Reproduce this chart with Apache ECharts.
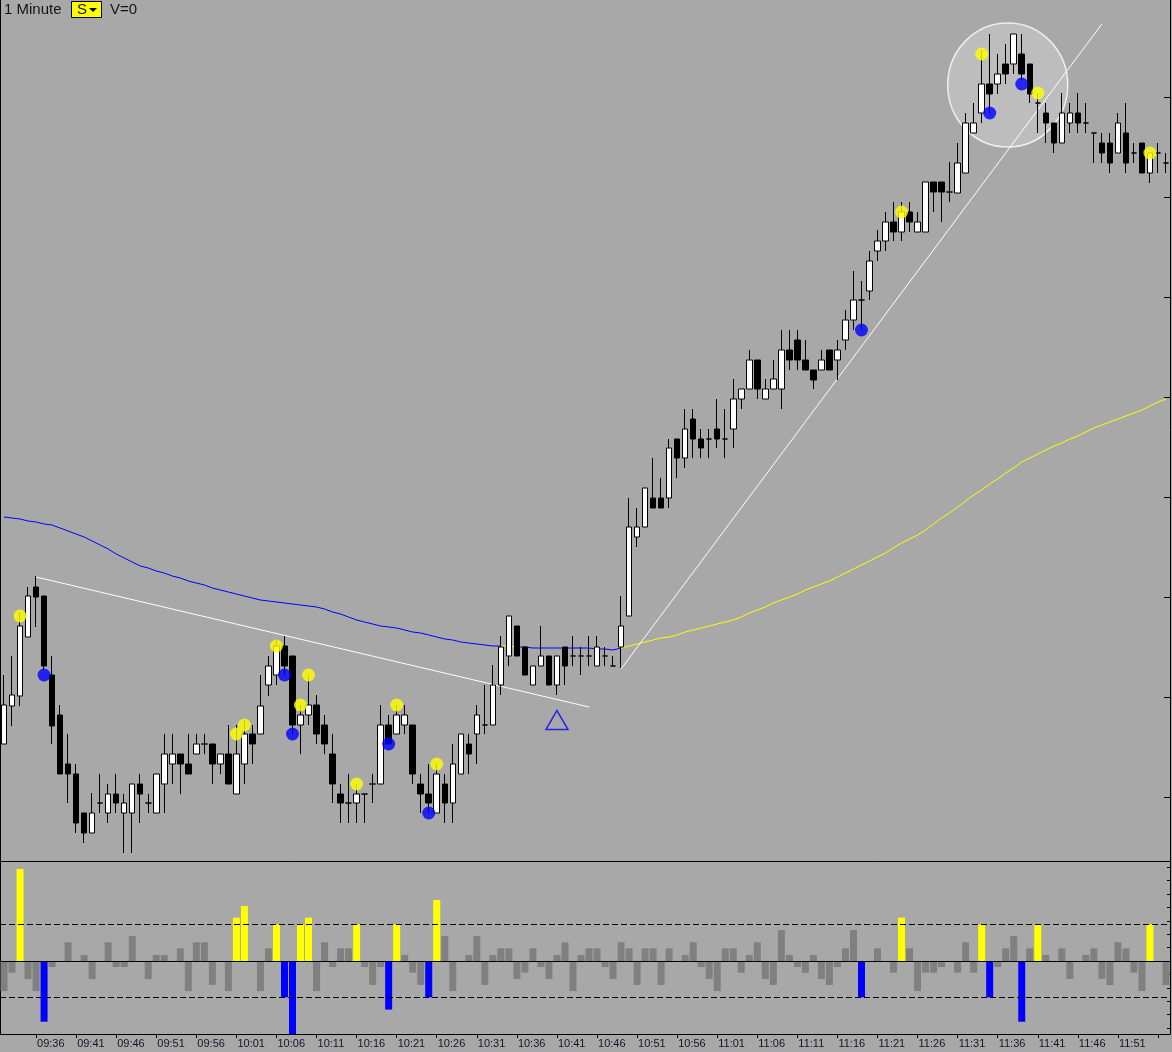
<!DOCTYPE html>
<html><head><meta charset="utf-8">
<script src="https://cdn.jsdelivr.net/npm/echarts@6/dist/echarts.min.js"></script>
<style>html,body{margin:0;padding:0;background:#a8a8a8;}#c{width:1172px;height:1052px;}</style>
</head><body><div id="c"></div>
<script>
// ---------- categories (1-minute bars) ----------
const times = ("09:32 09:33 09:34 09:35 09:36 09:37 09:38 09:39 09:40 09:41 09:42 09:43 09:44 09:45 09:46 09:47 09:48 09:49 09:50 09:51 09:52 09:53 09:54 09:55 09:56 09:57 09:58 09:59 " +
"10:00 10:01 10:02 10:03 10:04 10:05 10:06 10:07 10:08 10:09 10:10 10:11 10:12 10:13 10:14 10:15 10:16 10:17 10:18 10:19 10:20 10:21 10:22 10:23 10:24 10:25 10:26 10:27 10:28 10:29 " +
"10:30 10:31 10:32 10:33 10:34 10:35 10:36 10:37 10:38 10:39 10:40 10:41 10:42 10:43 10:44 10:45 10:46 10:47 10:48 10:49 10:50 10:51 10:52 10:53 10:54 10:55 10:56 10:57 10:58 10:59 " +
"11:00 11:01 11:02 11:03 11:04 11:05 11:06 11:07 11:08 11:09 11:10 11:11 11:12 11:13 11:14 11:15 11:16 11:17 11:18 11:19 11:20 11:21 11:22 11:23 11:24 11:25 11:26 11:27 11:28 11:29 " +
"11:30 11:31 11:32 11:33 11:34 11:35 11:36 11:37 11:38 11:39 11:40 11:41 11:42 11:43 11:44 11:45 11:46 11:47 11:48 11:49 11:50 11:51 11:52 11:53 11:54 11:55 11:56 11:57").split(' ');

// time-axis labels shown (every 5 minutes)
const tickLabels = ["09:36","09:41","09:46","09:51","09:56","10:01","10:06","10:11","10:16","10:21","10:26","10:31","10:36","10:41","10:46","10:51","10:56","11:01","11:06","11:11","11:16","11:21","11:26","11:31","11:36","11:41","11:46","11:51"];
const tickOnly = ["11:56"];

// ---------- OHLC ----------
const opens = [22.53,22.91,23.01,23.60,24.10,24.01,23.22,22.82,22.33,22.23,21.84,21.64,21.94,21.84,22.03,21.84,21.84,22.13,21.94,21.84,
22.13,22.33,22.43,22.33,22.43,22.53,22.53,22.33,22.43,22.03,22.33,22.63,22.63,23.12,23.22,23.51,23.41,22.72,22.82,22.92,
22.72,22.43,22.03,21.94,21.94,22.03,22.13,22.13,22.72,22.63,22.72,22.72,22.13,22.03,21.84,22.13,21.94,22.23,22.53,22.63,
22.72,22.72,23.12,23.41,23.71,23.50,23.12,23.31,23.41,23.12,23.50,23.41,23.41,23.41,23.31,23.41,23.31,23.50,23.81,24.60,
24.70,24.99,24.99,24.99,25.58,25.39,25.78,25.58,25.58,25.68,25.58,25.68,25.98,26.08,26.37,25.98,26.08,26.08,26.47,26.57,
26.37,26.27,26.27,26.47,26.37,26.57,26.77,26.97,27.06,27.46,27.56,27.75,27.65,27.85,27.65,27.65,28.15,28.15,28.05,28.04,
28.24,28.64,28.84,29.13,29.13,29.33,29.33,29.43,29.33,28.94,28.84,28.74,28.54,28.74,28.84,28.74,28.64,28.54,28.54,28.44,
28.64,28.44,28.54,28.24,28.44,28.34];
const closes = [22.92,23.02,23.71,24.01,24.00,23.31,22.71,22.23,22.23,21.74,21.64,21.84,21.94,22.03,21.94,21.94,22.13,22.03,21.94,22.23,
22.43,22.43,22.33,22.23,22.53,22.53,22.33,22.43,22.13,22.43,22.63,22.53,22.91,23.31,23.51,23.31,22.72,22.82,22.92,22.63,
22.53,22.13,21.94,21.94,22.03,22.03,22.13,22.72,22.53,22.82,22.82,22.23,22.03,21.94,22.23,21.94,22.33,22.63,22.43,22.82,
22.72,23.12,23.50,23.81,23.41,23.22,23.31,23.41,23.12,23.41,23.31,23.41,23.41,23.41,23.50,23.41,23.31,23.71,24.70,24.70,
25.09,24.89,24.89,25.49,25.39,25.68,25.58,25.49,25.58,25.58,25.58,25.98,26.08,26.37,26.08,26.08,26.18,26.47,26.37,26.37,
26.27,26.17,26.37,26.27,26.47,26.77,26.97,26.97,27.36,27.56,27.75,27.65,27.85,27.75,27.75,28.15,28.05,28.05,28.05,28.34,
28.74,28.74,29.13,29.03,29.23,29.23,29.63,29.23,29.03,28.94,28.74,28.54,28.84,28.84,28.74,28.74,28.64,28.44,28.34,28.74,
28.34,28.44,28.24,28.44,28.44,28.34];
const lows = [22.53,22.71,22.91,23.60,23.70,23.27,22.53,22.23,21.94,21.64,21.54,21.64,21.84,21.74,21.84,21.44,21.44,21.74,21.84,21.84,
21.84,22.13,22.03,22.23,22.43,22.43,22.13,22.23,22.13,22.03,22.13,22.33,22.63,23.01,23.12,23.22,22.63,22.43,22.72,22.53,
22.43,21.94,21.74,21.74,21.74,21.74,21.94,22.13,22.53,22.63,22.63,22.13,21.84,21.84,21.84,21.74,21.74,22.23,22.23,22.33,
22.63,22.72,23.02,23.31,23.41,23.22,23.12,23.31,23.12,23.02,23.12,23.31,23.22,23.31,23.31,23.31,23.31,23.29,23.81,24.50,
24.70,24.89,24.89,24.89,25.19,25.29,25.39,25.39,25.39,25.49,25.39,25.49,25.88,26.08,25.98,25.98,26.08,25.88,26.27,26.27,
26.27,26.08,26.27,26.27,26.17,26.47,26.67,26.67,26.97,27.36,27.46,27.56,27.56,27.65,27.65,27.65,27.85,27.75,27.95,28.04,
28.24,28.64,28.74,28.84,29.03,29.13,29.23,29.17,28.94,28.64,28.54,28.44,28.54,28.64,28.64,28.64,28.34,28.34,28.24,28.44,
28.24,28.34,28.24,28.14,28.24,28.24];
const highs = [23.22,23.41,23.85,24.10,24.21,24.01,23.41,22.92,22.63,22.33,21.84,22.04,22.23,22.13,22.23,22.03,22.13,22.23,22.03,22.23,
22.63,22.63,22.43,22.63,22.63,22.63,22.53,22.43,22.72,22.72,22.77,22.72,23.22,23.41,23.57,23.61,23.41,22.92,23.22,23.02,
22.82,22.63,22.13,22.23,22.13,22.03,22.23,22.92,22.82,22.92,22.92,22.72,22.23,22.33,22.33,22.23,22.53,22.63,22.63,22.92,
23.12,23.32,23.61,23.81,23.71,23.50,23.31,23.71,23.41,23.41,23.50,23.61,23.50,23.61,23.61,23.50,23.41,24.01,24.99,24.89,
25.09,25.39,25.19,25.58,25.58,25.88,25.88,25.68,25.68,25.98,25.88,26.18,26.08,26.47,26.37,26.18,26.37,26.67,26.67,26.67,
26.57,26.27,26.47,26.47,26.57,26.87,27.26,27.16,27.46,27.67,27.85,27.95,27.95,27.95,27.85,28.15,28.15,28.15,28.35,28.54,
28.84,28.94,29.47,29.63,29.43,29.53,29.63,29.63,29.33,29.04,28.94,28.74,29.04,28.94,29.04,28.94,28.64,28.64,28.64,28.84,
28.94,28.54,28.54,28.44,28.54,28.44];

// ---------- moving average ----------
const maValues = [24.80,24.79,24.78,24.76,24.75,24.73,24.72,24.69,24.66,24.63,24.60,24.56,24.52,24.48,24.43,24.39,24.35,24.31,24.29,24.26,
24.24,24.21,24.19,24.16,24.14,24.12,24.09,24.07,24.05,24.03,24.01,23.99,23.97,23.96,23.95,23.94,23.93,23.92,23.91,23.90,
23.88,23.85,23.83,23.80,23.77,23.75,23.73,23.71,23.70,23.69,23.67,23.65,23.64,23.62,23.60,23.58,23.57,23.55,23.54,23.53,
23.52,23.51,23.51,23.51,23.50,23.50,23.49,23.49,23.49,23.49,23.49,23.49,23.49,23.49,23.48,23.48,23.47,23.49,23.51,23.53,
23.55,23.57,23.59,23.60,23.62,23.65,23.67,23.69,23.71,23.73,23.75,23.77,23.80,23.84,23.87,23.90,23.94,23.97,24.00,24.03,
24.07,24.10,24.13,24.16,24.20,24.24,24.28,24.32,24.36,24.40,24.44,24.49,24.54,24.58,24.62,24.67,24.73,24.79,24.84,24.90,
24.96,25.02,25.07,25.13,25.18,25.24,25.29,25.35,25.39,25.43,25.47,25.51,25.54,25.58,25.61,25.65,25.69,25.72,25.75,25.78,
25.81,25.84,25.87,25.91,25.95,25.98];
const maBelowRanges = [[0,62],[64,77]];   // drawn blue
const maAboveRanges = [[62,64],[77,145]]; // drawn yellow

// ---------- signals ----------
const yellowDots = [[2,23.81],[29,22.63],[30,22.72],[34,23.51],[37,22.92],[38,23.22],[44,22.13],[49,22.92],[54,22.33],[112,27.85],[122,29.43],[129,29.04],[143,28.44]];
const blueDots = [[5,23.22],[35,23.22],[36,22.63],[48,22.53],[53,21.84],[107,26.67],[123,28.84],[127,29.13]];
const trendLine1 = [[4,24.20],[73,22.90]];
const trendLine2 = [[77,23.28],[137,29.73]];
const highlightCircle = [[125,29.12]];
const signalTriangle = [[69,22.77]];
const priceTicks = [22,23,24,25,26,27,28,29];

// ---------- lower oscillator ----------
const oscValues = [-1.64,-0.64,5.02,-0.98,-1.64,-3.31,-0.33,0,1.02,0,0.33,-0.98,0,1.02,-0.33,-0.33,1.36,0,-0.98,0.33,
0.33,0,0.69,-1.64,1.02,1.02,-1.31,0,-1.64,2.36,3.0,0,-1.64,0.69,2.0,-1.98,-4.0,2.0,2.36,-1.64,
1.02,-0.33,0.69,0.69,2.0,-0.33,-1.31,-0.33,-2.65,2.0,0.33,-0.64,-1.31,-1.98,3.33,1.36,-1.64,0,0.33,1.36,
-1.31,0.33,0.69,0.69,-0.98,-0.64,0.69,-0.33,-0.98,0.33,1.02,-1.64,0.33,0.69,0.69,-0.33,-0.98,1.02,0.69,-1.31,
0.69,0.69,-1.31,0.69,0,0.33,1.02,-0.33,-0.98,-1.64,0.69,0.69,-0.64,0.33,1.02,-0.98,-1.31,1.69,0.33,-0.33,
-0.64,0.33,-0.98,-1.31,-0.33,0.69,1.69,-1.98,0,0.69,0,-0.64,2.36,0.69,-1.64,-0.64,-0.64,-0.33,0,-0.64,
1.02,-0.64,2.0,-1.98,-0.33,0.69,1.36,-3.31,0.69,2.0,0.33,0,0.69,-0.98,0,0.33,0.69,-0.98,-1.31,1.02,
0.69,-0.64,-1.64,2.0,0,-1.31];
const oscBands = [2,-2];
const oscTicks = [-3.65,-2.92,-2.19,-1.46,-0.73,0,0.73,1.46,2.19,2.92,3.65,4.38,5.11];

// ---------- build ----------
const YEL = '#ffff00', BLU = '#0000ff', BG = '#a8a8a8';
const candleData = opens.map((o,i)=>[o, closes[i], lows[i], highs[i]]);
function inRanges(i, rs){ return rs.some(r => i>=r[0] && i<=r[1]); }
const maBlue = maValues.map((v,i)=> inRanges(i, maBelowRanges) ? v : null);
const maYellow = maValues.map((v,i)=> inRanges(i, maAboveRanges) ? v : null);
const ySet = new Set(yellowDots.map(d=>d[0]));
const bSet = new Set(blueDots.map(d=>d[0]));
const oscData = oscValues.map((v,i)=>({value:v, itemStyle:{color: ySet.has(i)?YEL:(bSet.has(i)?BLU:'#808080')}}));
const labelSet = new Set(tickLabels);
const tickSet = new Set(tickLabels.concat(tickOnly));

const pMin = 21.36, pMax = 29.97;
const chart = echarts.init(document.getElementById('c'), null, {renderer:'canvas'});
chart.setOption({
  animation:false,
  backgroundColor: BG,
  grid:[
    {left:0, top:0, width:1170, height:861},
    {left:0, top:861, width:1170, height:173}
  ],
  xAxis:[
    {type:'category', gridIndex:0, data:times, boundaryGap:true,
     axisLine:{show:true, onZero:false, lineStyle:{color:'#000', width:1}},
     axisTick:{show:false}, axisLabel:{show:false}, splitLine:{show:false}},
    {type:'category', gridIndex:1, data:times, boundaryGap:true,
     axisLine:{show:true, onZero:false, lineStyle:{color:'#000', width:1}},
     axisTick:{show:true, alignWithLabel:true, length:4, lineStyle:{color:'#000'},
       interval:(idx, val)=> tickSet.has(val)},
     axisLabel:{show:true, interval:(idx,val)=> labelSet.has(val), align:'left', margin:4,
       fontSize:11, fontFamily:'Liberation Sans, Arial, sans-serif', color:'#141428', padding:[0,0,0,1]},
     splitLine:{show:false}}
  ],
  yAxis:[
    {type:'value', gridIndex:0, position:'right', min:pMin, max:pMax, scale:true,
     axisLine:{show:true, lineStyle:{color:'#000', width:1}},
     axisTick:{show:true, inside:true, length:6, customValues:priceTicks, lineStyle:{color:'#000'}},
     axisLabel:{show:false}, splitLine:{show:false}},
    {type:'value', gridIndex:0, position:'left', min:pMin, max:pMax, scale:true,
     axisLine:{show:true, lineStyle:{color:'#000', width:2}},
     axisTick:{show:false}, axisLabel:{show:false}, splitLine:{show:false}},
    {type:'value', gridIndex:1, position:'right', min:-3.98, max:5.45,
     axisLine:{show:true, lineStyle:{color:'#000', width:1}},
     axisTick:{show:true, inside:true, length:3, customValues:oscTicks, lineStyle:{color:'#000'}},
     axisLabel:{show:false}, splitLine:{show:false}},
    {type:'value', gridIndex:1, position:'left', min:-3.98, max:5.45,
     axisLine:{show:true, lineStyle:{color:'#000', width:2}},
     axisTick:{show:false}, axisLabel:{show:false}, splitLine:{show:false}}
  ],
  graphic:[
    {type:'text', left:4, top:2, style:{text:'1 Minute', font:'15px "Liberation Sans", Arial, sans-serif', fill:'#141414'}},
    {type:'rect', left:71, top:1, shape:{width:30, height:16}, style:{fill:YEL, stroke:'#000', lineWidth:1}},
    {type:'text', left:77, top:2, style:{text:'S', font:'15px "Liberation Sans", Arial, sans-serif', fill:'#141414'}},
    {type:'polygon', shape:{points:[[89,8],[97,8],[93,12]]}, style:{fill:'#000'}},
    {type:'text', left:110, top:2, style:{text:'V=0', font:'15px "Liberation Sans", Arial, sans-serif', fill:'#141414'}}
  ],
  series:[
    {name:'circle', type:'scatter', xAxisIndex:0, yAxisIndex:0, data:highlightCircle, symbol:'circle', symbolSize:[120,124],
     symbolOffset:[2,0],
     itemStyle:{color:'#c2c2c2', borderColor:'#ffffff', borderWidth:1.5}, z:1, silent:true},
    {name:'MA below', type:'line', xAxisIndex:0, yAxisIndex:0, data:maBlue, showSymbol:false, connectNulls:false,
     lineStyle:{color:BLU, width:1}, z:2},
    {name:'MA above', type:'line', xAxisIndex:0, yAxisIndex:0, data:maYellow, showSymbol:false, connectNulls:false,
     lineStyle:{color:YEL, width:1}, z:2},
    {name:'trend1', type:'line', xAxisIndex:0, yAxisIndex:0, data:trendLine1, showSymbol:false,
     lineStyle:{color:'#ffffff', width:1}, z:3},
    {name:'trend2', type:'line', xAxisIndex:0, yAxisIndex:0, data:trendLine2, showSymbol:false,
     lineStyle:{color:'#ffffff', width:1}, z:3},
    {name:'price', type:'candlestick', xAxisIndex:0, yAxisIndex:0, data:candleData, barWidth:6,
     itemStyle:{color:'#ffffff', color0:'#000000', borderColor:'#000000', borderColor0:'#000000', borderColorDoji:'#000000', borderWidth:1}, z:4},
    {name:'buy', type:'scatter', xAxisIndex:0, yAxisIndex:0, data:yellowDots, symbolSize:13, itemStyle:{color:YEL}, z:5},
    {name:'sell', type:'scatter', xAxisIndex:0, yAxisIndex:0, data:blueDots, symbolSize:13, itemStyle:{color:BLU}, z:5},
    {name:'tri', type:'scatter', xAxisIndex:0, yAxisIndex:0, data:signalTriangle, symbol:'triangle', symbolSize:[22,19],
     itemStyle:{color:'rgba(0,0,0,0)', borderColor:BLU, borderWidth:1.5}, z:5},
    {name:'osc', type:'bar', xAxisIndex:1, yAxisIndex:2, data:oscData, barWidth:7,
     markLine:{silent:true, symbol:['none','none'], label:{show:false},
       data:[{yAxis:0, lineStyle:{color:'#000', width:1, type:'solid'}},
             {yAxis:oscBands[0], lineStyle:{color:'#000', width:1, type:[6,3]}},
             {yAxis:oscBands[1], lineStyle:{color:'#000', width:1, type:[6,3]}}]}}
  ]
});
</script></body></html>
